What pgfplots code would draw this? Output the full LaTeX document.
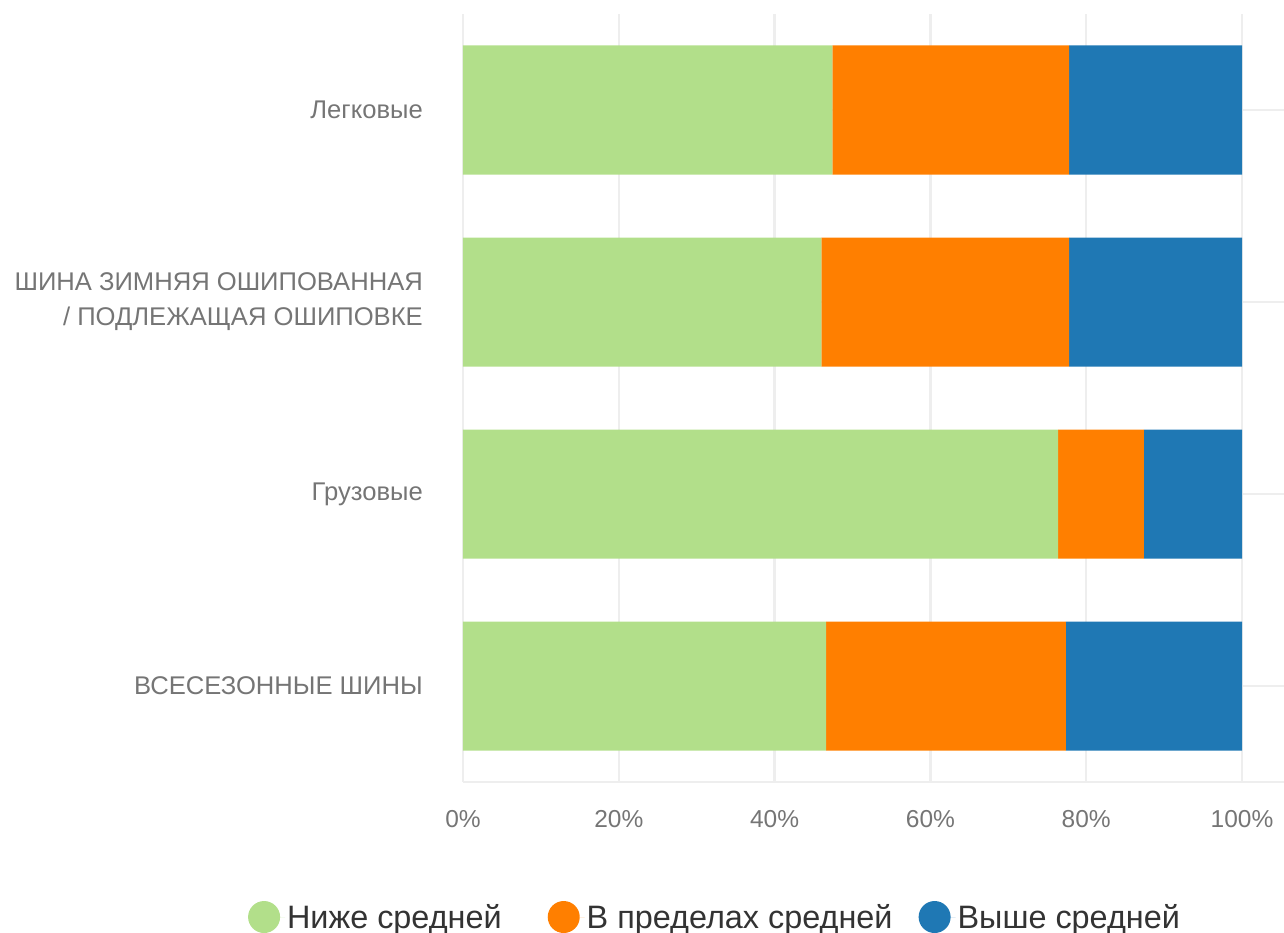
\documentclass[border=0pt]{standalone}
\usepackage{pgfplots}
\pgfplotsset{compat=1.18}
\usepackage{fontspec}
\setmainfont{Liberation Sans}
\definecolor{cgreen}{HTML}{B2DF8A}
\definecolor{corange}{HTML}{FF7F00}
\definecolor{cblue}{HTML}{1F78B4}
\definecolor{cgrid}{HTML}{EEEEEE}
\definecolor{clabel}{HTML}{757575}
\definecolor{clegend}{HTML}{333333}
\begin{document}
\begin{tikzpicture}
\useasboundingbox (-463pt,-151pt) rectangle (821pt,782pt);
\begin{axis}[
  scale only axis,
  width=821pt, height=768pt,
  xbar stacked,
  bar width=129pt,
  y dir=reverse,
  xmin=0, xmax=105.39,
  ymin=-0.5, ymax=3.5,
  xtick={0,20,40,60,80,100},
  xticklabels={0\%,20\%,40\%,60\%,80\%,100\%},
  ytick={0,1,2,3},
  yticklabels={Легковые, ШИНА ЗИМНЯЯ ОШИПОВАННАЯ\\/ ПОДЛЕЖАЩАЯ ОШИПОВКЕ, Грузовые, ВСЕСЕЗОННЫЕ ШИНЫ},
  extra y ticks={3.5},
  extra y tick labels={},
  extra y tick style={ymajorgrids=true},
  major tick length=0pt,
  xmajorgrids, ymajorgrids,
  grid style={draw=cgrid, line width=2.5pt},
  axis line style={draw=none},
  xticklabel style={anchor=base, yshift=-45pt, inner sep=0pt, font=\fontsize{24.5}{28}\selectfont, text=clabel},
  yticklabel style={anchor=east, xshift=-40pt, inner sep=0pt, align=right, font=\fontsize{25.6}{35}\selectfont, text=clabel},
  legend columns=3,
  legend style={at={(-0.262,-0.1758)}, anchor=west, draw=none, fill=none, inner sep=0pt,
    font=\fontsize{32.4}{34}\selectfont, text=clegend,
    /tikz/column 2/.style={column sep=44pt},
    /tikz/column 4/.style={column sep=24pt}},
]
\addplot[fill=cgreen, draw=none, legend image code/.code={\fill[cgreen] (16pt,0pt) circle (16pt); \path (0pt,0pt) -- (37pt,0pt);}] coordinates {(47.4,0) (46.0,1) (76.4,2) (46.6,3)};
\addplot[fill=corange, draw=none, legend image code/.code={\fill[corange] (16pt,0pt) circle (16pt); \path (0pt,0pt) -- (37pt,0pt);}] coordinates {(30.4,0) (31.8,1) (11.0,2) (30.8,3)};
\addplot[fill=cblue, draw=none, legend image code/.code={\fill[cblue] (16pt,0pt) circle (16pt); \path (0pt,0pt) -- (37pt,0pt);}] coordinates {(22.2,0) (22.2,1) (12.6,2) (22.6,3)};
\legend{Ниже средней, В пределах средней, Выше средней}
\end{axis}
\end{tikzpicture}
\end{document}
